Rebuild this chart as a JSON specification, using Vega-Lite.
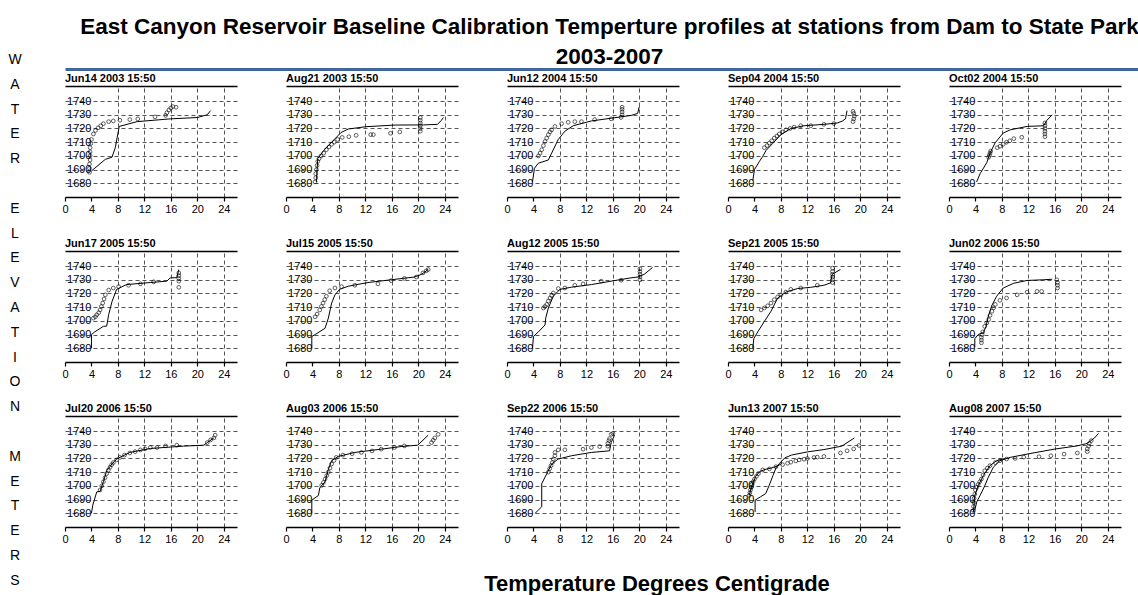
{
"$schema": "https://vega.github.io/schema/vega-lite/v6.json",
"background": "white",
"padding": {"left": 5, "top": 15, "right": 0, "bottom": 0},
"title": {"text": ["East Canyon Reservoir Baseline Calibration Temperture profiles at stations from Dam to State Park", "2003-2007"], "font": "Liberation Sans Narrow, Liberation Sans", "fontSize": 22.5, "fontWeight": "bold", "lineHeight": 30, "anchor": "middle", "offset": -20, "dx": 38, "color": "black"},
"config": {"view": {"stroke": null}, "font": "Liberation Sans"},
"spacing": 40,
"bounds": "flush",
"hconcat": [
{
"width": 20, "height": 544,
"data": {"values": [{"t": ["W","A","T","E","R","\u200b","E","L","E","V","A","T","I","O","N","\u200b","M","E","T","E","R","S"]}]},
"mark": {"type": "text", "lineHeight": 24.8, "fontSize": 14, "font": "Liberation Sans", "color": "black", "align": "center", "baseline": "middle", "dy": -260},
"encoding": {"text": {"field": "t", "type": "nominal"}}
},
{
"spacing": 4,
"vconcat": [
{
"width": 1073, "height": 21,
"data": {"values": [{"a": 0}]},
"mark": {"type": "text", "text": ""},
"encoding": {"x": {"field": "a", "type": "quantitative", "scale": {"domain": [0, 1]}, "axis": {"orient": "bottom", "domainColor": "#41679A", "domainWidth": 3, "labels": false, "ticks": false, "grid": false, "title": null}}}
},
{
"data": {"values": [
{"p":"Jun14 2003 15:50","k":"m","s":"a","t":4.0,"e":1689},{"p":"Jun14 2003 15:50","k":"m","s":"a","t":6.1,"e":1697.5},{"p":"Jun14 2003 15:50","k":"m","s":"a","t":7.1,"e":1699},{"p":"Jun14 2003 15:50","k":"m","s":"a","t":7.6,"e":1706},{"p":"Jun14 2003 15:50","k":"m","s":"a","t":8.2,"e":1721.5},{"p":"Jun14 2003 15:50","k":"m","s":"a","t":10.9,"e":1725},{"p":"Jun14 2003 15:50","k":"m","s":"a","t":15.9,"e":1727},{"p":"Jun14 2003 15:50","k":"m","s":"a","t":20,"e":1728},{"p":"Jun14 2003 15:50","k":"m","s":"a","t":21.5,"e":1730},{"p":"Jun14 2003 15:50","k":"m","s":"a","t":22,"e":1733},
{"p":"Jun14 2003 15:50","k":"o","t":3.7,"e":1688},{"p":"Jun14 2003 15:50","k":"o","t":3.7,"e":1691},{"p":"Jun14 2003 15:50","k":"o","t":3.7,"e":1694},{"p":"Jun14 2003 15:50","k":"o","t":3.8,"e":1697},{"p":"Jun14 2003 15:50","k":"o","t":3.8,"e":1700},{"p":"Jun14 2003 15:50","k":"o","t":3.8,"e":1703},{"p":"Jun14 2003 15:50","k":"o","t":3.8,"e":1706},{"p":"Jun14 2003 15:50","k":"o","t":3.9,"e":1709},{"p":"Jun14 2003 15:50","k":"o","t":4.0,"e":1712},{"p":"Jun14 2003 15:50","k":"o","t":4.3,"e":1716},{"p":"Jun14 2003 15:50","k":"o","t":4.6,"e":1718.5},{"p":"Jun14 2003 15:50","k":"o","t":5,"e":1720.5},{"p":"Jun14 2003 15:50","k":"o","t":5.4,"e":1722},{"p":"Jun14 2003 15:50","k":"o","t":5.8,"e":1723.5},{"p":"Jun14 2003 15:50","k":"o","t":6.6,"e":1725},{"p":"Jun14 2003 15:50","k":"o","t":7.3,"e":1725.5},{"p":"Jun14 2003 15:50","k":"o","t":8.3,"e":1726},{"p":"Jun14 2003 15:50","k":"o","t":9.8,"e":1726.5},{"p":"Jun14 2003 15:50","k":"o","t":11,"e":1727},{"p":"Jun14 2003 15:50","k":"o","t":13.6,"e":1728.5},{"p":"Jun14 2003 15:50","k":"o","t":15.2,"e":1729.5},{"p":"Jun14 2003 15:50","k":"o","t":15.4,"e":1731.5},{"p":"Jun14 2003 15:50","k":"o","t":15.7,"e":1733.5},{"p":"Jun14 2003 15:50","k":"o","t":16,"e":1735},{"p":"Jun14 2003 15:50","k":"o","t":16.3,"e":1736},{"p":"Jun14 2003 15:50","k":"o","t":16.8,"e":1735.5},

{"p":"Aug21 2003 15:50","k":"m","s":"a","t":4.6,"e":1681},{"p":"Aug21 2003 15:50","k":"m","s":"a","t":4.7,"e":1690},{"p":"Aug21 2003 15:50","k":"m","s":"a","t":4.8,"e":1698},{"p":"Aug21 2003 15:50","k":"m","s":"a","t":5.7,"e":1704},{"p":"Aug21 2003 15:50","k":"m","s":"a","t":6.7,"e":1709},{"p":"Aug21 2003 15:50","k":"m","s":"a","t":7.5,"e":1713},{"p":"Aug21 2003 15:50","k":"m","s":"a","t":8.3,"e":1717},{"p":"Aug21 2003 15:50","k":"m","s":"a","t":9.4,"e":1719.6},{"p":"Aug21 2003 15:50","k":"m","s":"a","t":12.1,"e":1721.3},{"p":"Aug21 2003 15:50","k":"m","s":"a","t":16.5,"e":1722.5},{"p":"Aug21 2003 15:50","k":"m","s":"a","t":20.8,"e":1722.6},{"p":"Aug21 2003 15:50","k":"m","s":"a","t":22.9,"e":1723},{"p":"Aug21 2003 15:50","k":"m","s":"a","t":23.5,"e":1726},{"p":"Aug21 2003 15:50","k":"m","s":"a","t":23.8,"e":1728},
{"p":"Aug21 2003 15:50","k":"o","t":4.4,"e":1681},{"p":"Aug21 2003 15:50","k":"o","t":4.5,"e":1684},{"p":"Aug21 2003 15:50","k":"o","t":4.5,"e":1687},{"p":"Aug21 2003 15:50","k":"o","t":4.6,"e":1690},{"p":"Aug21 2003 15:50","k":"o","t":4.7,"e":1693},{"p":"Aug21 2003 15:50","k":"o","t":4.8,"e":1696},{"p":"Aug21 2003 15:50","k":"o","t":5.0,"e":1698},{"p":"Aug21 2003 15:50","k":"o","t":5.3,"e":1700},{"p":"Aug21 2003 15:50","k":"o","t":5.7,"e":1702},{"p":"Aug21 2003 15:50","k":"o","t":6.1,"e":1704.5},{"p":"Aug21 2003 15:50","k":"o","t":6.5,"e":1706.5},{"p":"Aug21 2003 15:50","k":"o","t":6.9,"e":1708.5},{"p":"Aug21 2003 15:50","k":"o","t":7.3,"e":1710},{"p":"Aug21 2003 15:50","k":"o","t":7.8,"e":1712},{"p":"Aug21 2003 15:50","k":"o","t":8.5,"e":1713.5},{"p":"Aug21 2003 15:50","k":"o","t":9.5,"e":1714},{"p":"Aug21 2003 15:50","k":"o","t":10.6,"e":1715},{"p":"Aug21 2003 15:50","k":"o","t":12.8,"e":1715.5},{"p":"Aug21 2003 15:50","k":"o","t":13.2,"e":1715.5},{"p":"Aug21 2003 15:50","k":"o","t":15.8,"e":1716.5},{"p":"Aug21 2003 15:50","k":"o","t":17.2,"e":1717.5},{"p":"Aug21 2003 15:50","k":"o","t":20.3,"e":1718},{"p":"Aug21 2003 15:50","k":"o","t":20.3,"e":1720},{"p":"Aug21 2003 15:50","k":"o","t":20.3,"e":1722},{"p":"Aug21 2003 15:50","k":"o","t":20.3,"e":1724},{"p":"Aug21 2003 15:50","k":"o","t":20.3,"e":1726},{"p":"Aug21 2003 15:50","k":"o","t":20.3,"e":1728},

{"p":"Jun12 2004 15:50","k":"m","s":"a","t":3.85,"e":1681},{"p":"Jun12 2004 15:50","k":"m","s":"a","t":4.15,"e":1691},{"p":"Jun12 2004 15:50","k":"m","s":"a","t":4.75,"e":1694.7},{"p":"Jun12 2004 15:50","k":"m","s":"a","t":6.25,"e":1697},{"p":"Jun12 2004 15:50","k":"m","s":"a","t":6.75,"e":1702},{"p":"Jun12 2004 15:50","k":"m","s":"a","t":7.75,"e":1712},{"p":"Jun12 2004 15:50","k":"m","s":"a","t":8.75,"e":1718},{"p":"Jun12 2004 15:50","k":"m","s":"a","t":10,"e":1722},{"p":"Jun12 2004 15:50","k":"m","s":"a","t":12.75,"e":1725.5},{"p":"Jun12 2004 15:50","k":"m","s":"a","t":15.75,"e":1727.5},{"p":"Jun12 2004 15:50","k":"m","s":"a","t":18.75,"e":1729.5},{"p":"Jun12 2004 15:50","k":"m","s":"a","t":19.75,"e":1731},{"p":"Jun12 2004 15:50","k":"m","s":"a","t":20,"e":1736},
{"p":"Jun12 2004 15:50","k":"o","t":4.75,"e":1700},{"p":"Jun12 2004 15:50","k":"o","t":5,"e":1702},{"p":"Jun12 2004 15:50","k":"o","t":5.25,"e":1704.5},{"p":"Jun12 2004 15:50","k":"o","t":5.5,"e":1707.5},{"p":"Jun12 2004 15:50","k":"o","t":5.75,"e":1710.5},{"p":"Jun12 2004 15:50","k":"o","t":6,"e":1713},{"p":"Jun12 2004 15:50","k":"o","t":6.25,"e":1715.5},{"p":"Jun12 2004 15:50","k":"o","t":6.5,"e":1717.5},{"p":"Jun12 2004 15:50","k":"o","t":6.75,"e":1719},{"p":"Jun12 2004 15:50","k":"o","t":7.25,"e":1721.5},{"p":"Jun12 2004 15:50","k":"o","t":8.25,"e":1723.5},{"p":"Jun12 2004 15:50","k":"o","t":9.25,"e":1724.5},{"p":"Jun12 2004 15:50","k":"o","t":10.25,"e":1725},{"p":"Jun12 2004 15:50","k":"o","t":11.25,"e":1725},{"p":"Jun12 2004 15:50","k":"o","t":13.25,"e":1726.5},{"p":"Jun12 2004 15:50","k":"o","t":15.75,"e":1727},{"p":"Jun12 2004 15:50","k":"o","t":17.25,"e":1728},{"p":"Jun12 2004 15:50","k":"o","t":17.4,"e":1730},{"p":"Jun12 2004 15:50","k":"o","t":17.4,"e":1732},{"p":"Jun12 2004 15:50","k":"o","t":17.4,"e":1734},{"p":"Jun12 2004 15:50","k":"o","t":17.4,"e":1735.5},

{"p":"Sep04 2004 15:50","k":"m","s":"a","t":3.75,"e":1682},{"p":"Sep04 2004 15:50","k":"m","s":"a","t":4,"e":1690},{"p":"Sep04 2004 15:50","k":"m","s":"a","t":4.75,"e":1696},{"p":"Sep04 2004 15:50","k":"m","s":"a","t":5.25,"e":1699.6},{"p":"Sep04 2004 15:50","k":"m","s":"a","t":5.75,"e":1704},{"p":"Sep04 2004 15:50","k":"m","s":"a","t":6.75,"e":1709},{"p":"Sep04 2004 15:50","k":"m","s":"a","t":8,"e":1715.5},{"p":"Sep04 2004 15:50","k":"m","s":"a","t":9.5,"e":1720},{"p":"Sep04 2004 15:50","k":"m","s":"a","t":11.5,"e":1722},{"p":"Sep04 2004 15:50","k":"m","s":"a","t":14.5,"e":1723},{"p":"Sep04 2004 15:50","k":"m","s":"a","t":16.5,"e":1724},{"p":"Sep04 2004 15:50","k":"m","s":"a","t":17.25,"e":1725.3},{"p":"Sep04 2004 15:50","k":"m","s":"a","t":17.75,"e":1727},{"p":"Sep04 2004 15:50","k":"m","s":"a","t":18,"e":1733},
{"p":"Sep04 2004 15:50","k":"o","t":5.5,"e":1706},{"p":"Sep04 2004 15:50","k":"o","t":5.9,"e":1707.5},{"p":"Sep04 2004 15:50","k":"o","t":6.25,"e":1709.4},{"p":"Sep04 2004 15:50","k":"o","t":6.6,"e":1711},{"p":"Sep04 2004 15:50","k":"o","t":7,"e":1713},{"p":"Sep04 2004 15:50","k":"o","t":7.4,"e":1714.5},{"p":"Sep04 2004 15:50","k":"o","t":7.75,"e":1716},{"p":"Sep04 2004 15:50","k":"o","t":8.2,"e":1717.5},{"p":"Sep04 2004 15:50","k":"o","t":8.75,"e":1719},{"p":"Sep04 2004 15:50","k":"o","t":9.4,"e":1720},{"p":"Sep04 2004 15:50","k":"o","t":10,"e":1721},{"p":"Sep04 2004 15:50","k":"o","t":11,"e":1722},{"p":"Sep04 2004 15:50","k":"o","t":12.5,"e":1722},{"p":"Sep04 2004 15:50","k":"o","t":14.5,"e":1723},{"p":"Sep04 2004 15:50","k":"o","t":16,"e":1723.6},{"p":"Sep04 2004 15:50","k":"o","t":18.9,"e":1725},{"p":"Sep04 2004 15:50","k":"o","t":19,"e":1727},{"p":"Sep04 2004 15:50","k":"o","t":19.1,"e":1729},{"p":"Sep04 2004 15:50","k":"o","t":19,"e":1731},{"p":"Sep04 2004 15:50","k":"o","t":18.9,"e":1732.5},

{"p":"Oct02 2004 15:50","k":"m","s":"a","t":4.17,"e":1681},{"p":"Oct02 2004 15:50","k":"m","s":"a","t":4.7,"e":1687},{"p":"Oct02 2004 15:50","k":"m","s":"a","t":5.7,"e":1695},{"p":"Oct02 2004 15:50","k":"m","s":"a","t":6.2,"e":1702},{"p":"Oct02 2004 15:50","k":"m","s":"a","t":6.97,"e":1709.5},{"p":"Oct02 2004 15:50","k":"m","s":"a","t":8.2,"e":1716.7},{"p":"Oct02 2004 15:50","k":"m","s":"a","t":9.25,"e":1719},{"p":"Oct02 2004 15:50","k":"m","s":"a","t":11.8,"e":1721.5},{"p":"Oct02 2004 15:50","k":"m","s":"a","t":14.3,"e":1722},{"p":"Oct02 2004 15:50","k":"m","s":"a","t":14.8,"e":1726},{"p":"Oct02 2004 15:50","k":"m","s":"a","t":15.6,"e":1730},
{"p":"Oct02 2004 15:50","k":"o","t":6.0,"e":1699},{"p":"Oct02 2004 15:50","k":"o","t":6.1,"e":1700.5},{"p":"Oct02 2004 15:50","k":"o","t":6.2,"e":1702},{"p":"Oct02 2004 15:50","k":"o","t":6.3,"e":1703.5},{"p":"Oct02 2004 15:50","k":"o","t":7.3,"e":1706},{"p":"Oct02 2004 15:50","k":"o","t":7.7,"e":1707},{"p":"Oct02 2004 15:50","k":"o","t":8.2,"e":1708.5},{"p":"Oct02 2004 15:50","k":"o","t":8.7,"e":1710},{"p":"Oct02 2004 15:50","k":"o","t":9.2,"e":1711},{"p":"Oct02 2004 15:50","k":"o","t":9.8,"e":1712.6},{"p":"Oct02 2004 15:50","k":"o","t":11,"e":1713.6},{"p":"Oct02 2004 15:50","k":"o","t":14.5,"e":1714},{"p":"Oct02 2004 15:50","k":"o","t":14.5,"e":1716},{"p":"Oct02 2004 15:50","k":"o","t":14.5,"e":1718},{"p":"Oct02 2004 15:50","k":"o","t":14.5,"e":1720},{"p":"Oct02 2004 15:50","k":"o","t":14.5,"e":1722},{"p":"Oct02 2004 15:50","k":"o","t":14.5,"e":1724},

{"p":"Jun17 2005 15:50","k":"m","s":"a","t":4,"e":1680},{"p":"Jun17 2005 15:50","k":"m","s":"a","t":4,"e":1690},{"p":"Jun17 2005 15:50","k":"m","s":"a","t":4.5,"e":1692},{"p":"Jun17 2005 15:50","k":"m","s":"a","t":5.8,"e":1696},{"p":"Jun17 2005 15:50","k":"m","s":"a","t":6.3,"e":1696.2},{"p":"Jun17 2005 15:50","k":"m","s":"a","t":6.6,"e":1704.5},{"p":"Jun17 2005 15:50","k":"m","s":"a","t":7.1,"e":1714},{"p":"Jun17 2005 15:50","k":"m","s":"a","t":7.8,"e":1723},{"p":"Jun17 2005 15:50","k":"m","s":"a","t":9.3,"e":1726.5},{"p":"Jun17 2005 15:50","k":"m","s":"a","t":12.9,"e":1728},{"p":"Jun17 2005 15:50","k":"m","s":"a","t":15.4,"e":1729},{"p":"Jun17 2005 15:50","k":"m","s":"a","t":15.9,"e":1731.4},{"p":"Jun17 2005 15:50","k":"m","s":"a","t":16.9,"e":1731.5},{"p":"Jun17 2005 15:50","k":"m","s":"a","t":17.2,"e":1737.5},
{"p":"Jun17 2005 15:50","k":"o","t":4.3,"e":1702},{"p":"Jun17 2005 15:50","k":"o","t":4.6,"e":1703},{"p":"Jun17 2005 15:50","k":"o","t":4.8,"e":1704.5},{"p":"Jun17 2005 15:50","k":"o","t":5.1,"e":1706},{"p":"Jun17 2005 15:50","k":"o","t":5.3,"e":1708},{"p":"Jun17 2005 15:50","k":"o","t":5.5,"e":1710.5},{"p":"Jun17 2005 15:50","k":"o","t":5.7,"e":1713},{"p":"Jun17 2005 15:50","k":"o","t":5.9,"e":1716},{"p":"Jun17 2005 15:50","k":"o","t":6.1,"e":1719},{"p":"Jun17 2005 15:50","k":"o","t":6.6,"e":1722.5},{"p":"Jun17 2005 15:50","k":"o","t":7.3,"e":1724},{"p":"Jun17 2005 15:50","k":"o","t":8.1,"e":1725},{"p":"Jun17 2005 15:50","k":"o","t":9.6,"e":1726},{"p":"Jun17 2005 15:50","k":"o","t":11.4,"e":1727},{"p":"Jun17 2005 15:50","k":"o","t":13.4,"e":1728.5},{"p":"Jun17 2005 15:50","k":"o","t":17.2,"e":1729},{"p":"Jun17 2005 15:50","k":"o","t":17.2,"e":1731},{"p":"Jun17 2005 15:50","k":"o","t":17.2,"e":1733},{"p":"Jun17 2005 15:50","k":"o","t":17.2,"e":1735},{"p":"Jun17 2005 15:50","k":"o","t":17.2,"e":1724.5},

{"p":"Jul15 2005 15:50","k":"m","s":"a","t":3.9,"e":1680},{"p":"Jul15 2005 15:50","k":"m","s":"a","t":3.9,"e":1688.6},{"p":"Jul15 2005 15:50","k":"m","s":"a","t":4.4,"e":1690},{"p":"Jul15 2005 15:50","k":"m","s":"a","t":5.9,"e":1694.6},{"p":"Jul15 2005 15:50","k":"m","s":"a","t":6.4,"e":1702},{"p":"Jul15 2005 15:50","k":"m","s":"a","t":6.9,"e":1713},{"p":"Jul15 2005 15:50","k":"m","s":"a","t":7.4,"e":1719},{"p":"Jul15 2005 15:50","k":"m","s":"a","t":8.1,"e":1723},{"p":"Jul15 2005 15:50","k":"m","s":"a","t":9.4,"e":1725.3},{"p":"Jul15 2005 15:50","k":"m","s":"a","t":12.4,"e":1728},{"p":"Jul15 2005 15:50","k":"m","s":"a","t":15.9,"e":1730},{"p":"Jul15 2005 15:50","k":"m","s":"a","t":19.4,"e":1732},{"p":"Jul15 2005 15:50","k":"m","s":"a","t":20.5,"e":1734},{"p":"Jul15 2005 15:50","k":"m","s":"a","t":21.5,"e":1737.5},
{"p":"Jul15 2005 15:50","k":"o","t":4.4,"e":1703},{"p":"Jul15 2005 15:50","k":"o","t":4.7,"e":1705},{"p":"Jul15 2005 15:50","k":"o","t":5.1,"e":1708},{"p":"Jul15 2005 15:50","k":"o","t":5.35,"e":1710.5},{"p":"Jul15 2005 15:50","k":"o","t":5.6,"e":1713},{"p":"Jul15 2005 15:50","k":"o","t":5.85,"e":1715.5},{"p":"Jul15 2005 15:50","k":"o","t":6.1,"e":1718},{"p":"Jul15 2005 15:50","k":"o","t":6.6,"e":1722},{"p":"Jul15 2005 15:50","k":"o","t":7.4,"e":1724},{"p":"Jul15 2005 15:50","k":"o","t":8.4,"e":1725},{"p":"Jul15 2005 15:50","k":"o","t":10.4,"e":1726},{"p":"Jul15 2005 15:50","k":"o","t":13.9,"e":1727},{"p":"Jul15 2005 15:50","k":"o","t":15.9,"e":1729.4},{"p":"Jul15 2005 15:50","k":"o","t":17.9,"e":1731},{"p":"Jul15 2005 15:50","k":"o","t":19.7,"e":1732},{"p":"Jul15 2005 15:50","k":"o","t":20.7,"e":1735},{"p":"Jul15 2005 15:50","k":"o","t":21.2,"e":1736.5},{"p":"Jul15 2005 15:50","k":"o","t":21.5,"e":1737.5},

{"p":"Aug12 2005 15:50","k":"m","s":"a","t":3.85,"e":1680},{"p":"Aug12 2005 15:50","k":"m","s":"a","t":4,"e":1688.6},{"p":"Aug12 2005 15:50","k":"m","s":"a","t":4.75,"e":1692},{"p":"Aug12 2005 15:50","k":"m","s":"a","t":5.75,"e":1697},{"p":"Aug12 2005 15:50","k":"m","s":"a","t":5.85,"e":1702},{"p":"Aug12 2005 15:50","k":"m","s":"a","t":6.25,"e":1709.4},{"p":"Aug12 2005 15:50","k":"m","s":"a","t":7,"e":1718},{"p":"Aug12 2005 15:50","k":"m","s":"a","t":8,"e":1723},{"p":"Aug12 2005 15:50","k":"m","s":"a","t":9.75,"e":1724.6},{"p":"Aug12 2005 15:50","k":"m","s":"a","t":12.75,"e":1726.5},{"p":"Aug12 2005 15:50","k":"m","s":"a","t":15.75,"e":1729},{"p":"Aug12 2005 15:50","k":"m","s":"a","t":18.75,"e":1731.4},{"p":"Aug12 2005 15:50","k":"m","s":"a","t":19.75,"e":1732},{"p":"Aug12 2005 15:50","k":"m","s":"a","t":20.75,"e":1734},{"p":"Aug12 2005 15:50","k":"m","s":"a","t":22,"e":1739},
{"p":"Aug12 2005 15:50","k":"o","t":5.5,"e":1709.4},{"p":"Aug12 2005 15:50","k":"o","t":5.75,"e":1710.5},{"p":"Aug12 2005 15:50","k":"o","t":6,"e":1712},{"p":"Aug12 2005 15:50","k":"o","t":6.25,"e":1714.5},{"p":"Aug12 2005 15:50","k":"o","t":6.5,"e":1716.7},{"p":"Aug12 2005 15:50","k":"o","t":6.75,"e":1718.5},{"p":"Aug12 2005 15:50","k":"o","t":7,"e":1720.4},{"p":"Aug12 2005 15:50","k":"o","t":7.75,"e":1723.6},{"p":"Aug12 2005 15:50","k":"o","t":8.75,"e":1724},{"p":"Aug12 2005 15:50","k":"o","t":10.25,"e":1726},{"p":"Aug12 2005 15:50","k":"o","t":11.5,"e":1727},{"p":"Aug12 2005 15:50","k":"o","t":14.25,"e":1729},{"p":"Aug12 2005 15:50","k":"o","t":17.25,"e":1729.7},{"p":"Aug12 2005 15:50","k":"o","t":20.1,"e":1730},{"p":"Aug12 2005 15:50","k":"o","t":20.1,"e":1732},{"p":"Aug12 2005 15:50","k":"o","t":20.1,"e":1734},{"p":"Aug12 2005 15:50","k":"o","t":20.1,"e":1736},{"p":"Aug12 2005 15:50","k":"o","t":20.1,"e":1738},

{"p":"Sep21 2005 15:50","k":"m","s":"a","t":3.75,"e":1680},{"p":"Sep21 2005 15:50","k":"m","s":"a","t":3.9,"e":1687},{"p":"Sep21 2005 15:50","k":"m","s":"a","t":4.5,"e":1692},{"p":"Sep21 2005 15:50","k":"m","s":"a","t":5.5,"e":1699.6},{"p":"Sep21 2005 15:50","k":"m","s":"a","t":6.5,"e":1707},{"p":"Sep21 2005 15:50","k":"m","s":"a","t":7.5,"e":1716.7},{"p":"Sep21 2005 15:50","k":"m","s":"a","t":8.75,"e":1721},{"p":"Sep21 2005 15:50","k":"m","s":"a","t":10.5,"e":1723.6},{"p":"Sep21 2005 15:50","k":"m","s":"a","t":12.5,"e":1724.5},{"p":"Sep21 2005 15:50","k":"m","s":"a","t":14.5,"e":1726},{"p":"Sep21 2005 15:50","k":"m","s":"a","t":15.5,"e":1727.7},{"p":"Sep21 2005 15:50","k":"m","s":"a","t":15.75,"e":1734},{"p":"Sep21 2005 15:50","k":"m","s":"a","t":17,"e":1737.5},
{"p":"Sep21 2005 15:50","k":"o","t":5,"e":1708},{"p":"Sep21 2005 15:50","k":"o","t":5.5,"e":1709.5},{"p":"Sep21 2005 15:50","k":"o","t":6,"e":1711},{"p":"Sep21 2005 15:50","k":"o","t":6.5,"e":1713},{"p":"Sep21 2005 15:50","k":"o","t":7,"e":1715.5},{"p":"Sep21 2005 15:50","k":"o","t":7.5,"e":1717.5},{"p":"Sep21 2005 15:50","k":"o","t":8,"e":1719},{"p":"Sep21 2005 15:50","k":"o","t":8.75,"e":1721},{"p":"Sep21 2005 15:50","k":"o","t":9.5,"e":1723},{"p":"Sep21 2005 15:50","k":"o","t":11,"e":1724},{"p":"Sep21 2005 15:50","k":"o","t":13.5,"e":1726},{"p":"Sep21 2005 15:50","k":"o","t":15.8,"e":1728},{"p":"Sep21 2005 15:50","k":"o","t":15.8,"e":1730},{"p":"Sep21 2005 15:50","k":"o","t":15.8,"e":1732},{"p":"Sep21 2005 15:50","k":"o","t":15.8,"e":1734},{"p":"Sep21 2005 15:50","k":"o","t":15.8,"e":1736},{"p":"Sep21 2005 15:50","k":"o","t":15.8,"e":1738.5},

{"p":"Jun02 2006 15:50","k":"m","s":"a","t":3.9,"e":1681},{"p":"Jun02 2006 15:50","k":"m","s":"a","t":3.9,"e":1687},{"p":"Jun02 2006 15:50","k":"m","s":"a","t":4.4,"e":1690},{"p":"Jun02 2006 15:50","k":"m","s":"a","t":5.2,"e":1691.5},{"p":"Jun02 2006 15:50","k":"m","s":"a","t":5.6,"e":1696},{"p":"Jun02 2006 15:50","k":"m","s":"a","t":5.95,"e":1703.5},{"p":"Jun02 2006 15:50","k":"m","s":"a","t":6.45,"e":1711},{"p":"Jun02 2006 15:50","k":"m","s":"a","t":7.2,"e":1718},{"p":"Jun02 2006 15:50","k":"m","s":"a","t":8.2,"e":1724},{"p":"Jun02 2006 15:50","k":"m","s":"a","t":9.8,"e":1727.5},{"p":"Jun02 2006 15:50","k":"m","s":"a","t":11.8,"e":1729.5},{"p":"Jun02 2006 15:50","k":"m","s":"a","t":14.3,"e":1730},{"p":"Jun02 2006 15:50","k":"m","s":"a","t":15.6,"e":1730.4},
{"p":"Jun02 2006 15:50","k":"o","t":4.9,"e":1684},{"p":"Jun02 2006 15:50","k":"o","t":4.9,"e":1686},{"p":"Jun02 2006 15:50","k":"o","t":4.9,"e":1688},{"p":"Jun02 2006 15:50","k":"o","t":5,"e":1690},{"p":"Jun02 2006 15:50","k":"o","t":5.1,"e":1692},{"p":"Jun02 2006 15:50","k":"o","t":5.4,"e":1696},{"p":"Jun02 2006 15:50","k":"o","t":5.7,"e":1698.5},{"p":"Jun02 2006 15:50","k":"o","t":6,"e":1701},{"p":"Jun02 2006 15:50","k":"o","t":6.2,"e":1704},{"p":"Jun02 2006 15:50","k":"o","t":6.5,"e":1707},{"p":"Jun02 2006 15:50","k":"o","t":6.75,"e":1709.5},{"p":"Jun02 2006 15:50","k":"o","t":7,"e":1712},{"p":"Jun02 2006 15:50","k":"o","t":7.7,"e":1715},{"p":"Jun02 2006 15:50","k":"o","t":8.7,"e":1716.7},{"p":"Jun02 2006 15:50","k":"o","t":10.3,"e":1719},{"p":"Jun02 2006 15:50","k":"o","t":11.8,"e":1721},{"p":"Jun02 2006 15:50","k":"o","t":13.3,"e":1721.5},{"p":"Jun02 2006 15:50","k":"o","t":14,"e":1721.5},{"p":"Jun02 2006 15:50","k":"o","t":16.4,"e":1724},{"p":"Jun02 2006 15:50","k":"o","t":16.4,"e":1726},{"p":"Jun02 2006 15:50","k":"o","t":16.4,"e":1728},{"p":"Jun02 2006 15:50","k":"o","t":16.3,"e":1730},

{"p":"Jul20 2006 15:50","k":"m","s":"a","t":4,"e":1680},{"p":"Jul20 2006 15:50","k":"m","s":"a","t":4.2,"e":1686},{"p":"Jul20 2006 15:50","k":"m","s":"a","t":4.8,"e":1695.6},{"p":"Jul20 2006 15:50","k":"m","s":"a","t":5.3,"e":1696},{"p":"Jul20 2006 15:50","k":"m","s":"a","t":5.8,"e":1703},{"p":"Jul20 2006 15:50","k":"m","s":"a","t":6.3,"e":1711},{"p":"Jul20 2006 15:50","k":"m","s":"a","t":7.1,"e":1716},{"p":"Jul20 2006 15:50","k":"m","s":"a","t":7.8,"e":1719.6},{"p":"Jul20 2006 15:50","k":"m","s":"a","t":9.8,"e":1724.4},{"p":"Jul20 2006 15:50","k":"m","s":"a","t":12.9,"e":1727.3},{"p":"Jul20 2006 15:50","k":"m","s":"a","t":17.9,"e":1729},{"p":"Jul20 2006 15:50","k":"m","s":"a","t":21,"e":1729.7},{"p":"Jul20 2006 15:50","k":"m","s":"a","t":21.5,"e":1731.6},{"p":"Jul20 2006 15:50","k":"m","s":"a","t":22.5,"e":1735},
{"p":"Jul20 2006 15:50","k":"o","t":5.3,"e":1697},{"p":"Jul20 2006 15:50","k":"o","t":5.55,"e":1700},{"p":"Jul20 2006 15:50","k":"o","t":5.8,"e":1703},{"p":"Jul20 2006 15:50","k":"o","t":6.05,"e":1706},{"p":"Jul20 2006 15:50","k":"o","t":6.3,"e":1709},{"p":"Jul20 2006 15:50","k":"o","t":6.55,"e":1711.5},{"p":"Jul20 2006 15:50","k":"o","t":6.8,"e":1713.6},{"p":"Jul20 2006 15:50","k":"o","t":7.05,"e":1715.5},{"p":"Jul20 2006 15:50","k":"o","t":7.3,"e":1717},{"p":"Jul20 2006 15:50","k":"o","t":7.8,"e":1719},{"p":"Jul20 2006 15:50","k":"o","t":8.3,"e":1720.8},{"p":"Jul20 2006 15:50","k":"o","t":9,"e":1722.5},{"p":"Jul20 2006 15:50","k":"o","t":9.8,"e":1724},{"p":"Jul20 2006 15:50","k":"o","t":10.6,"e":1725},{"p":"Jul20 2006 15:50","k":"o","t":11.4,"e":1726.3},{"p":"Jul20 2006 15:50","k":"o","t":12.1,"e":1727},{"p":"Jul20 2006 15:50","k":"o","t":12.9,"e":1728},{"p":"Jul20 2006 15:50","k":"o","t":13.9,"e":1728},{"p":"Jul20 2006 15:50","k":"o","t":15.2,"e":1729.2},{"p":"Jul20 2006 15:50","k":"o","t":16.9,"e":1729.7},{"p":"Jul20 2006 15:50","k":"o","t":21.5,"e":1731.6},{"p":"Jul20 2006 15:50","k":"o","t":22,"e":1733.5},{"p":"Jul20 2006 15:50","k":"o","t":22.5,"e":1735},{"p":"Jul20 2006 15:50","k":"o","t":22.7,"e":1737},

{"p":"Aug03 2006 15:50","k":"m","s":"a","t":3.9,"e":1680},{"p":"Aug03 2006 15:50","k":"m","s":"a","t":3.9,"e":1689.6},{"p":"Aug03 2006 15:50","k":"m","s":"a","t":4.9,"e":1693},{"p":"Aug03 2006 15:50","k":"m","s":"a","t":5.1,"e":1698.5},{"p":"Aug03 2006 15:50","k":"m","s":"a","t":5.9,"e":1703},{"p":"Aug03 2006 15:50","k":"m","s":"a","t":6.4,"e":1712},{"p":"Aug03 2006 15:50","k":"m","s":"a","t":6.9,"e":1718.4},{"p":"Aug03 2006 15:50","k":"m","s":"a","t":7.9,"e":1721.5},{"p":"Aug03 2006 15:50","k":"m","s":"a","t":10.4,"e":1724.4},{"p":"Aug03 2006 15:50","k":"m","s":"a","t":14.4,"e":1726.8},{"p":"Aug03 2006 15:50","k":"m","s":"a","t":17.4,"e":1728.7},{"p":"Aug03 2006 15:50","k":"m","s":"a","t":19.9,"e":1729.7},{"p":"Aug03 2006 15:50","k":"m","s":"a","t":21.5,"e":1737},
{"p":"Aug03 2006 15:50","k":"o","t":5.4,"e":1700.4},{"p":"Aug03 2006 15:50","k":"o","t":5.65,"e":1702.5},{"p":"Aug03 2006 15:50","k":"o","t":5.9,"e":1705},{"p":"Aug03 2006 15:50","k":"o","t":6.15,"e":1707.5},{"p":"Aug03 2006 15:50","k":"o","t":6.4,"e":1710},{"p":"Aug03 2006 15:50","k":"o","t":6.65,"e":1713},{"p":"Aug03 2006 15:50","k":"o","t":6.9,"e":1716},{"p":"Aug03 2006 15:50","k":"o","t":7.25,"e":1718.5},{"p":"Aug03 2006 15:50","k":"o","t":7.6,"e":1720.8},{"p":"Aug03 2006 15:50","k":"o","t":8.6,"e":1722.5},{"p":"Aug03 2006 15:50","k":"o","t":10,"e":1723.5},{"p":"Aug03 2006 15:50","k":"o","t":11.4,"e":1724.4},{"p":"Aug03 2006 15:50","k":"o","t":13,"e":1725.5},{"p":"Aug03 2006 15:50","k":"o","t":14.4,"e":1726.8},{"p":"Aug03 2006 15:50","k":"o","t":16.4,"e":1728},{"p":"Aug03 2006 15:50","k":"o","t":17.9,"e":1729.2},{"p":"Aug03 2006 15:50","k":"o","t":22,"e":1731.6},{"p":"Aug03 2006 15:50","k":"o","t":22.25,"e":1733.3},{"p":"Aug03 2006 15:50","k":"o","t":22.5,"e":1735},{"p":"Aug03 2006 15:50","k":"o","t":23,"e":1737.6},

{"p":"Sep22 2006 15:50","k":"m","s":"a","t":4.25,"e":1680},{"p":"Sep22 2006 15:50","k":"m","s":"a","t":5.25,"e":1684.8},{"p":"Sep22 2006 15:50","k":"m","s":"a","t":5.25,"e":1701.6},{"p":"Sep22 2006 15:50","k":"m","s":"a","t":6,"e":1708.8},{"p":"Sep22 2006 15:50","k":"m","s":"a","t":6.75,"e":1716},{"p":"Sep22 2006 15:50","k":"m","s":"a","t":7.75,"e":1719.6},{"p":"Sep22 2006 15:50","k":"m","s":"a","t":9.75,"e":1722},{"p":"Sep22 2006 15:50","k":"m","s":"a","t":12.75,"e":1724.4},{"p":"Sep22 2006 15:50","k":"m","s":"a","t":15.5,"e":1725.6},{"p":"Sep22 2006 15:50","k":"m","s":"a","t":15.75,"e":1731.6},{"p":"Sep22 2006 15:50","k":"m","s":"a","t":16.25,"e":1737},
{"p":"Sep22 2006 15:50","k":"o","t":6.25,"e":1710},{"p":"Sep22 2006 15:50","k":"o","t":6.45,"e":1712.5},{"p":"Sep22 2006 15:50","k":"o","t":6.65,"e":1714.8},{"p":"Sep22 2006 15:50","k":"o","t":6.85,"e":1717},{"p":"Sep22 2006 15:50","k":"o","t":7,"e":1719.6},{"p":"Sep22 2006 15:50","k":"o","t":7.25,"e":1722},{"p":"Sep22 2006 15:50","k":"o","t":7.25,"e":1724.4},{"p":"Sep22 2006 15:50","k":"o","t":7.75,"e":1726.3},{"p":"Sep22 2006 15:50","k":"o","t":8.75,"e":1726.3},{"p":"Sep22 2006 15:50","k":"o","t":11.5,"e":1726.8},{"p":"Sep22 2006 15:50","k":"o","t":12.75,"e":1728},{"p":"Sep22 2006 15:50","k":"o","t":14,"e":1728.7},{"p":"Sep22 2006 15:50","k":"o","t":15.25,"e":1729},{"p":"Sep22 2006 15:50","k":"o","t":15.25,"e":1731},{"p":"Sep22 2006 15:50","k":"o","t":15.4,"e":1733},{"p":"Sep22 2006 15:50","k":"o","t":15.5,"e":1734.5},{"p":"Sep22 2006 15:50","k":"o","t":15.75,"e":1737.6},{"p":"Sep22 2006 15:50","k":"o","t":16,"e":1738.3},

{"p":"Jun13 2007 15:50","k":"m","s":"a","t":4.1,"e":1681},{"p":"Jun13 2007 15:50","k":"m","s":"a","t":4.1,"e":1689.6},{"p":"Jun13 2007 15:50","k":"m","s":"a","t":4.9,"e":1692},{"p":"Jun13 2007 15:50","k":"m","s":"a","t":5.7,"e":1694.4},{"p":"Jun13 2007 15:50","k":"m","s":"a","t":6.2,"e":1700},{"p":"Jun13 2007 15:50","k":"m","s":"a","t":6.8,"e":1707.6},{"p":"Jun13 2007 15:50","k":"m","s":"a","t":7.3,"e":1713.6},{"p":"Jun13 2007 15:50","k":"m","s":"a","t":7.8,"e":1716.5},{"p":"Jun13 2007 15:50","k":"m","s":"a","t":8.6,"e":1720.5},{"p":"Jun13 2007 15:50","k":"m","s":"a","t":9.6,"e":1722.5},{"p":"Jun13 2007 15:50","k":"m","s":"a","t":12,"e":1724.8},{"p":"Jun13 2007 15:50","k":"m","s":"a","t":14.5,"e":1726.5},{"p":"Jun13 2007 15:50","k":"m","s":"a","t":17.2,"e":1729},{"p":"Jun13 2007 15:50","k":"m","s":"a","t":19.1,"e":1735},
{"p":"Jun13 2007 15:50","k":"m","s":"b","t":3.2,"e":1693},{"p":"Jun13 2007 15:50","k":"m","s":"b","t":3.6,"e":1700},{"p":"Jun13 2007 15:50","k":"m","s":"b","t":4.2,"e":1707},{"p":"Jun13 2007 15:50","k":"m","s":"b","t":4.8,"e":1710.5},{"p":"Jun13 2007 15:50","k":"m","s":"b","t":5.6,"e":1712},{"p":"Jun13 2007 15:50","k":"m","s":"b","t":6.5,"e":1713},{"p":"Jun13 2007 15:50","k":"m","s":"b","t":7.5,"e":1714.5},{"p":"Jun13 2007 15:50","k":"m","s":"b","t":8,"e":1716},
{"p":"Jun13 2007 15:50","k":"o","t":3.2,"e":1693},{"p":"Jun13 2007 15:50","k":"o","t":3.3,"e":1695},{"p":"Jun13 2007 15:50","k":"o","t":3.4,"e":1697},{"p":"Jun13 2007 15:50","k":"o","t":3.5,"e":1699},{"p":"Jun13 2007 15:50","k":"o","t":3.6,"e":1701},{"p":"Jun13 2007 15:50","k":"o","t":3.8,"e":1703},{"p":"Jun13 2007 15:50","k":"o","t":4,"e":1705},{"p":"Jun13 2007 15:50","k":"o","t":4.3,"e":1707},{"p":"Jun13 2007 15:50","k":"o","t":4.6,"e":1709},{"p":"Jun13 2007 15:50","k":"o","t":5.25,"e":1711.7},{"p":"Jun13 2007 15:50","k":"o","t":6.25,"e":1712.4},{"p":"Jun13 2007 15:50","k":"o","t":7.25,"e":1714},{"p":"Jun13 2007 15:50","k":"o","t":8.25,"e":1715.5},{"p":"Jun13 2007 15:50","k":"o","t":9,"e":1716.5},{"p":"Jun13 2007 15:50","k":"o","t":9.5,"e":1717.3},{"p":"Jun13 2007 15:50","k":"o","t":10.25,"e":1718.2},{"p":"Jun13 2007 15:50","k":"o","t":10.75,"e":1719},{"p":"Jun13 2007 15:50","k":"o","t":11.5,"e":1719.5},{"p":"Jun13 2007 15:50","k":"o","t":12,"e":1720},{"p":"Jun13 2007 15:50","k":"o","t":13,"e":1720.7},{"p":"Jun13 2007 15:50","k":"o","t":13.5,"e":1721},{"p":"Jun13 2007 15:50","k":"o","t":14.5,"e":1721.5},{"p":"Jun13 2007 15:50","k":"o","t":17,"e":1724},{"p":"Jun13 2007 15:50","k":"o","t":18,"e":1725.6},{"p":"Jun13 2007 15:50","k":"o","t":19,"e":1727},{"p":"Jun13 2007 15:50","k":"o","t":19.8,"e":1729.5},

{"p":"Aug08 2007 15:50","k":"m","s":"a","t":3.9,"e":1682.4},{"p":"Aug08 2007 15:50","k":"m","s":"a","t":4.2,"e":1688.4},{"p":"Aug08 2007 15:50","k":"m","s":"a","t":4.7,"e":1693},{"p":"Aug08 2007 15:50","k":"m","s":"a","t":5.4,"e":1700},{"p":"Aug08 2007 15:50","k":"m","s":"a","t":5.95,"e":1706.4},{"p":"Aug08 2007 15:50","k":"m","s":"a","t":6.7,"e":1713.6},{"p":"Aug08 2007 15:50","k":"m","s":"a","t":7.7,"e":1718.4},{"p":"Aug08 2007 15:50","k":"m","s":"a","t":9.25,"e":1720.8},{"p":"Aug08 2007 15:50","k":"m","s":"a","t":11.8,"e":1723.2},{"p":"Aug08 2007 15:50","k":"m","s":"a","t":15.9,"e":1726.8},{"p":"Aug08 2007 15:50","k":"m","s":"a","t":19.4,"e":1729.2},{"p":"Aug08 2007 15:50","k":"m","s":"a","t":20.9,"e":1731},{"p":"Aug08 2007 15:50","k":"m","s":"a","t":22,"e":1735},{"p":"Aug08 2007 15:50","k":"m","s":"a","t":22.6,"e":1738.3},
{"p":"Aug08 2007 15:50","k":"m","s":"b","t":3.7,"e":1681},{"p":"Aug08 2007 15:50","k":"m","s":"b","t":3.9,"e":1693},{"p":"Aug08 2007 15:50","k":"m","s":"b","t":4.4,"e":1700},{"p":"Aug08 2007 15:50","k":"m","s":"b","t":5.2,"e":1707.6},{"p":"Aug08 2007 15:50","k":"m","s":"b","t":6.2,"e":1714.8},{"p":"Aug08 2007 15:50","k":"m","s":"b","t":7.2,"e":1718.4},{"p":"Aug08 2007 15:50","k":"m","s":"b","t":8.5,"e":1720},
{"p":"Aug08 2007 15:50","k":"o","t":3.7,"e":1682},{"p":"Aug08 2007 15:50","k":"o","t":3.7,"e":1685},{"p":"Aug08 2007 15:50","k":"o","t":3.75,"e":1688},{"p":"Aug08 2007 15:50","k":"o","t":3.8,"e":1691},{"p":"Aug08 2007 15:50","k":"o","t":3.9,"e":1694},{"p":"Aug08 2007 15:50","k":"o","t":4,"e":1697},{"p":"Aug08 2007 15:50","k":"o","t":4.2,"e":1699},{"p":"Aug08 2007 15:50","k":"o","t":4.4,"e":1701},{"p":"Aug08 2007 15:50","k":"o","t":4.65,"e":1703},{"p":"Aug08 2007 15:50","k":"o","t":4.9,"e":1705},{"p":"Aug08 2007 15:50","k":"o","t":5.15,"e":1708},{"p":"Aug08 2007 15:50","k":"o","t":5.4,"e":1711},{"p":"Aug08 2007 15:50","k":"o","t":5.8,"e":1713},{"p":"Aug08 2007 15:50","k":"o","t":6.2,"e":1714.8},{"p":"Aug08 2007 15:50","k":"o","t":7,"e":1717},{"p":"Aug08 2007 15:50","k":"o","t":7.7,"e":1718.4},{"p":"Aug08 2007 15:50","k":"o","t":8.7,"e":1719.6},{"p":"Aug08 2007 15:50","k":"o","t":10,"e":1720},{"p":"Aug08 2007 15:50","k":"o","t":11.3,"e":1721},{"p":"Aug08 2007 15:50","k":"o","t":13.6,"e":1721.3},{"p":"Aug08 2007 15:50","k":"o","t":15.4,"e":1722},{"p":"Aug08 2007 15:50","k":"o","t":17.4,"e":1723.2},{"p":"Aug08 2007 15:50","k":"o","t":19.4,"e":1724},{"p":"Aug08 2007 15:50","k":"o","t":20.9,"e":1725},{"p":"Aug08 2007 15:50","k":"o","t":20.9,"e":1727},{"p":"Aug08 2007 15:50","k":"o","t":21.1,"e":1729},{"p":"Aug08 2007 15:50","k":"o","t":21.2,"e":1731},{"p":"Aug08 2007 15:50","k":"o","t":21.5,"e":1733}
]},
"facet": {"field": "p", "type": "nominal", "sort": ["Jun14 2003 15:50","Aug21 2003 15:50","Jun12 2004 15:50","Sep04 2004 15:50","Oct02 2004 15:50","Jun17 2005 15:50","Jul15 2005 15:50","Aug12 2005 15:50","Sep21 2005 15:50","Jun02 2006 15:50","Jul20 2006 15:50","Aug03 2006 15:50","Sep22 2006 15:50","Jun13 2007 15:50","Aug08 2007 15:50"],
 "header": {"title": null, "labelAnchor": "start", "labelAlign": "left", "labelExpr": "'\u200b\u00a0\u00a0' + datum.label", "labelFont": "Liberation Sans", "labelFontSize": 11, "labelFontWeight": "bold", "labelColor": "black", "labelPadding": 2}},
"columns": 5,
"spacing": {"row": 54, "column": 49},
"bounds": "flush",
"resolve": {"axis": {"x": "independent", "y": "independent"}},
"spec": {
 "width": 172, "height": 111,
 "resolve": {"axis": {"x": "independent"}},
 "layer": [
  {
   "transform": [{"filter": "datum.k === 'm'"}],
   "mark": {"type": "line", "color": "black", "strokeWidth": 1},
   "encoding": {
    "x": {"field": "t", "type": "quantitative", "scale": {"domain": [0, 26], "nice": false, "zero": false},
          "axis": {"orient": "bottom", "values": [0,4,8,12,16,20,24], "grid": false, "title": null, "domainColor": "black", "domainWidth": 1.5, "tickColor": "black", "tickSize": 4, "tickWidth": 1.2, "labelFont": "Liberation Sans", "labelFontSize": 11, "labelColor": "black", "labelPadding": 2, "labelFlush": false}},
    "y": {"field": "e", "type": "quantitative", "scale": {"domain": [1670, 1751], "nice": false, "zero": false},
          "axis": {"orient": "left", "offset": -27, "values": [1680,1690,1700,1710,1720,1730,1740], "format": "d", "labelOverlap": false, "ticks": false, "domain": false, "title": null, "labelFont": "Liberation Sans", "labelFontSize": 11, "labelColor": "black", "labelPadding": 1, "grid": true, "gridDash": [4,3], "gridColor": "#555", "gridWidth": 1}},
    "detail": {"field": "s", "type": "nominal"},
    "order": {"field": "e", "type": "quantitative"}
   }
  },
  {
   "transform": [{"filter": "datum.k === 'o'"}],
   "mark": {"type": "point", "shape": "circle", "size": 14, "filled": false, "color": "black", "strokeWidth": 0.9},
   "encoding": {
    "x": {"field": "t", "type": "quantitative",
          "axis": {"orient": "top", "values": [8,12,16,20,24], "labels": false, "ticks": false, "title": null, "domainColor": "black", "domainWidth": 1.5, "grid": true, "gridDash": [4,3], "gridColor": "#555", "gridWidth": 1}},
    "y": {"field": "e", "type": "quantitative",
          "axis": {"orient": "left", "offset": -27, "values": [1680,1690,1700,1710,1720,1730,1740], "format": "d", "labelOverlap": false, "ticks": false, "domain": false, "title": null, "labelFont": "Liberation Sans", "labelFontSize": 11, "labelColor": "black", "labelPadding": 1, "grid": true, "gridDash": [4,3], "gridColor": "#555", "gridWidth": 1}}
   }
  }
 ]
}
},
{
"width": 1056, "height": 72,
"data": {"values": [{"t": "Temperature Degrees Centigrade"}]},
"mark": {"type": "text", "font": "Liberation Sans Narrow, Liberation Sans", "fontSize": 22, "fontWeight": "bold", "color": "black", "dx": 64, "baseline": "middle"},
"encoding": {"text": {"field": "t", "type": "nominal"}}
}
]
}
]
}
